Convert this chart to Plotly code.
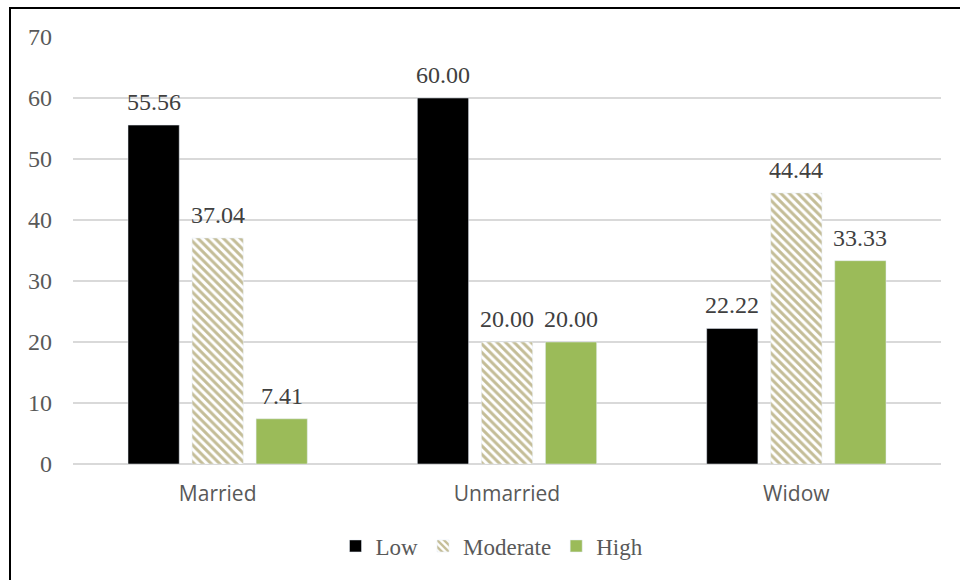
import plotly.graph_objects as go

categories = ["Married", "Unmarried", "Widow"]
low = [55.56, 60.00, 22.22]
moderate = [37.04, 20.00, 44.44]
high = [7.41, 20.00, 33.33]
y_ticks = [0, 10, 20, 30, 40, 50, 60, 70]

serif = "Liberation Serif, Times New Roman, serif"
sans = "Open Sans, Liberation Sans, Arial, sans-serif"
label_font = dict(family=serif, size=24, color="#404040")

fig = go.Figure()
fig.add_trace(go.Bar(name="Low", x=categories, y=low, marker=dict(color="#000000")))
fig.add_trace(go.Bar(name="Moderate", x=categories, y=moderate,
                     marker=dict(color="#FFFFFF",
                                 pattern=dict(shape="\\", fgcolor="#C4BD97", bgcolor="#FFFFFF",
                                              size=6, solidity=0.5, fgopacity=1,
                                              fillmode="overlay"))))
fig.add_trace(go.Bar(name="High", x=categories, y=high, marker=dict(color="#9BBB59")))

L, R, T, B = 73, 19, 37, 116
W, H = 960, 580
pw, ph = W - L - R, H - T - B
slot = 64  # pixel distance between grouped bar centres

def px_x(p):
    return (p - L) / pw

def px_y(p):
    return (H - B - p) / ph

annotations = []
for k, series in enumerate([low, moderate, high]):
    for cat, v in zip(categories, series):
        annotations.append(dict(x=cat, y=v, xref="x", yref="y", text=f"{v:.2f}",
                                showarrow=False, yanchor="bottom", xanchor="center",
                                xshift=(k - 1) * slot, yshift=8, font=label_font))

fig.update_layout(
    width=W, height=H,
    margin=dict(l=L, r=R, t=T, b=B),
    paper_bgcolor="white", plot_bgcolor="white",
    barmode="group", bargap=0.336, bargroupgap=0.2,
    showlegend=True,
    legend=dict(orientation="h", x=px_x(492), xanchor="center", y=px_y(546), yanchor="middle",
                font=dict(family=serif, size=23, color="#595959"),
                itemwidth=30, traceorder="normal"),
    xaxis=dict(showgrid=False, showline=False, ticks="", ticklabelstandoff=15,
               tickfont=dict(family=sans, size=21, color="#595959")),
    yaxis=dict(range=[0, 70], tickvals=y_ticks, showgrid=True, gridcolor="#D9D9D9",
               gridwidth=1.5, zeroline=True, zerolinecolor="#D9D9D9", zerolinewidth=1.5,
               showline=False, ticks="", ticklabelstandoff=20,
               tickfont=dict(family=serif, size=24, color="#595959")),
    annotations=annotations,
    shapes=[dict(type="rect", xref="paper", yref="paper",
                 x0=px_x(10), x1=px_x(1000), y0=px_y(620), y1=px_y(8),
                 line=dict(color="black", width=2), fillcolor="rgba(0,0,0,0)", layer="above")],
)

fig.write_html("out.html")
